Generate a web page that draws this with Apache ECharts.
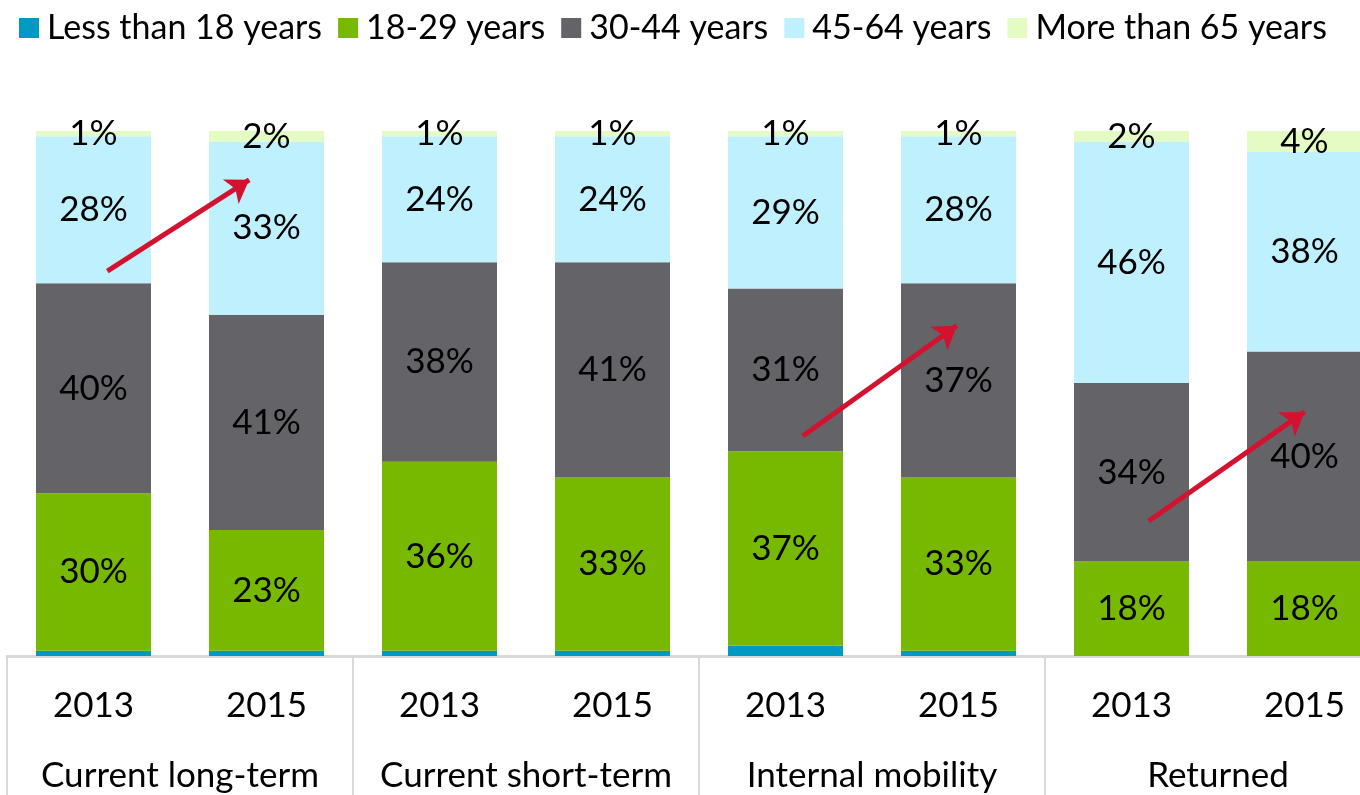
<!DOCTYPE html>
<html>
<head>
<meta charset="utf-8">
<script src="https://cdn.jsdelivr.net/npm/echarts@6/dist/echarts.min.js"></script>
<style>
  html, body { margin: 0; padding: 0; background: #fff; }
  #chart { width: 1360px; height: 795px; }
</style>
</head>
<body>
<div id="chart"></div>
<script>
// bars: two years per group
const years = ['2013', '2015', '2013', '2015', '2013', '2015', '2013', '2015'];
const groups = ['Current long-term', 'Current short-term', 'Internal mobility', 'Returned'];

const ageNames = ['Less than 18 years', '18-29 years', '30-44 years', '45-64 years', 'More than 65 years'];
const under18 = [1, 1, 1, 1, 2, 1, 0, 0];
const age18to29 = [30, 23, 36, 33, 37, 33, 18, 18];
const age30to44 = [40, 41, 38, 41, 31, 37, 34, 40];
const age45to64 = [28, 33, 24, 24, 29, 28, 46, 38];
const over65 = [1, 2, 1, 1, 1, 1, 2, 4];

// red trend arrows, in (bar position, percent) units
const arrows = [
    [[0.58, 73.3], [1.4, 90.7]],
    [[4.6, 41.9], [5.49, 62.9]],
    [[6.6, 25.7], [7.5, 46.5]]
];

const colors = ['#0099c4', '#76b900', '#636368', '#bff0fe', '#e5fbc4'];
const seriesData = [under18, age18to29, age30to44, age45to64, over65];
const font = 'Lato, "Liberation Sans", sans-serif';
const fs = 35;

let mycharts = echarts.init(document.getElementById('chart'));

let barSeries = ageNames.map((name, i) => ({
    name: name,
    type: 'bar',
    stack: 'total',
    barWidth: 115,
    xAxisIndex: 0,
    itemStyle: { color: colors[i] },
    label: {
        show: i > 0,
        position: 'inside',
        color: '#000',
        fontSize: fs,
        fontFamily: font,
        formatter: p => p.value > 0 ? p.value + '%' : ''
    },
    data: seriesData[i]
}));

mycharts.setOption({
    animation: false,
    legend: {
        top: 6,
        left: 14,
        width: 1400,
        itemWidth: 20,
        itemHeight: 20,
        itemGap: 16,
        icon: 'rect',
        textStyle: { fontSize: 34, color: '#000', fontFamily: font, padding: [0, 0, 0, 3] },
        data: ageNames
    },
    grid: {
        left: 7,
        top: 131,
        width: 1384,
        height: 525,
        outerBoundsMode: 'none',
        containLabel: false
    },
    xAxis: [{
        type: 'category',
        position: 'bottom',
        data: years,
        axisLine: { show: true, lineStyle: { color: '#d9d9d9', width: 3 } },
        axisTick: { show: false },
        axisLabel: { color: '#000', fontSize: fs, fontFamily: font, margin: 32, interval: 0 }
    }, {
        type: 'category',
        position: 'bottom',
        data: groups,
        axisLine: { show: false },
        axisTick: { show: true, length: 140, lineStyle: { color: '#d9d9d9', width: 2 } },
        axisLabel: { color: '#000', fontSize: fs, fontFamily: font, margin: 102, interval: 0 }
    }, {
        type: 'value',
        min: 0,
        max: 8,
        show: false
    }],
    yAxis: {
        type: 'value',
        min: 0,
        max: 100,
        show: false
    },
    series: barSeries.concat([{
        type: 'lines',
        coordinateSystem: 'cartesian2d',
        xAxisIndex: 2,
        yAxisIndex: 0,
        symbol: ['none', 'arrow'],
        symbolSize: 22,
        lineStyle: { color: '#d4122f', width: 5, opacity: 1, curveness: 0 },
        z: 10,
        data: arrows.map(a => ({ coords: a }))
    }])
});
</script>
</body>
</html>
